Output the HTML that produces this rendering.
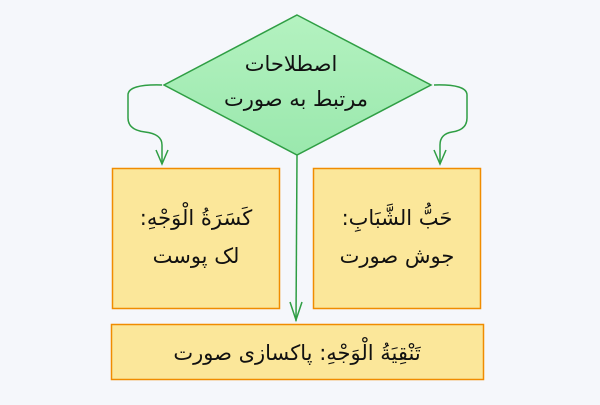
<!DOCTYPE html>
<html><head><meta charset="utf-8"><style>
body{margin:0;width:600px;height:400px;background:#f5f7fb;overflow:hidden;font-family:"Liberation Sans","DejaVu Sans",sans-serif}
.t{font-family:"DejaVu Sans","Noto Sans CJK SC",sans-serif;font-size:21px;fill:#111}
</style></head><body>
<svg width="600" height="400" viewBox="0 0 600 400" xmlns="http://www.w3.org/2000/svg">
<defs><linearGradient id="g" x1="0" y1="0" x2="0" y2="1"><stop offset="0" stop-color="#b4f2c0"/><stop offset="1" stop-color="#9ae8ad"/></linearGradient></defs>
<polygon points="297,15 431,85 297,155 164,85" fill="url(#g)" stroke="#2f9e44" stroke-width="1.5"/>
<path d="M162,85 Q128,84 128,95 L128,118 Q128,130 145,132 Q162,134 162,145 L162,164" fill="none" stroke="#2f9e44" stroke-width="1.5"/>
<path d="M156,150 L162,164 L168,150" fill="none" stroke="#2f9e44" stroke-width="1.5"/>
<path d="M434,85 Q467,84 467,95 L467,118 Q467,130 452,132 Q440,134 440,145 L440,164" fill="none" stroke="#2f9e44" stroke-width="1.5"/>
<path d="M434,150 L440,164 L446,150" fill="none" stroke="#2f9e44" stroke-width="1.5"/>
<path d="M297,155 L296,321" fill="none" stroke="#2f9e44" stroke-width="1.5"/>
<path d="M290,302 L296,320 L302,302" fill="none" stroke="#2f9e44" stroke-width="1.5"/>
<rect x="112.5" y="168.5" width="167" height="140" fill="#fbe79a" stroke="#f08c00" stroke-width="1.5"/>
<rect x="313.5" y="168.5" width="167" height="140" fill="#fbe79a" stroke="#f08c00" stroke-width="1.5"/>
<rect x="111.5" y="324.5" width="372" height="55" fill="#fbe79a" stroke="#f08c00" stroke-width="1.5"/>
<g class="t" text-anchor="middle" direction="rtl">
<text x="291" y="71">اصطلاحات</text>
<text x="296" y="106">مرتبط به صورت</text>
<text x="196" y="225">كَسَرَةُ الْوَجْهِ:</text>
<text x="196" y="263">لک پوست</text>
<text x="397" y="225">حَبُّ الشَّبَابِ:</text>
<text x="397" y="263">جوش صورت</text>
<text x="297" y="360">تَنْقِيَةُ الْوَجْهِ: پاکسازی صورت</text>
</g>
</svg>
</body></html>
